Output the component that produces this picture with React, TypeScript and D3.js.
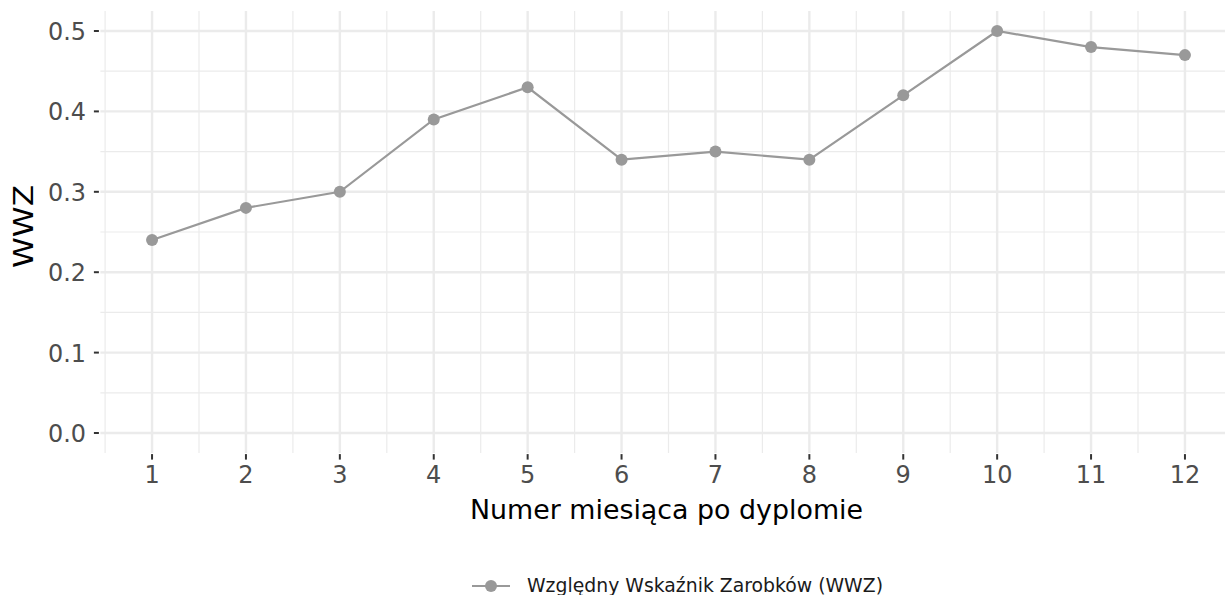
import React from "react";
import * as d3 from "d3";

const months = [1, 2, 3, 4, 5, 6, 7, 8, 9, 10, 11, 12];
const wwz = [0.24, 0.28, 0.3, 0.39, 0.43, 0.34, 0.35, 0.34, 0.42, 0.5, 0.48, 0.47];
const yTicks = [0, 0.1, 0.2, 0.3, 0.4, 0.5];
const yMinor = [0.05, 0.15, 0.25, 0.35, 0.45];
const xMinor = [0.5, 1.5, 2.5, 3.5, 4.5, 5.5, 6.5, 7.5, 8.5, 9.5, 10.5, 11.5, 12.5];
const xTitle = "Numer miesiąca po dyplomie";
const yTitle = "WWZ";
const legendLabel = "Względny Wskaźnik Zarobków (WWZ)";

const W = 1225, H = 595;
const FONT = "'DejaVu Sans', sans-serif";

export default function App() {
  const x = d3.scaleLinear().domain([0.45, 12.55]).range([100.4, 1236.6]);
  const y = d3.scaleLinear().domain([-0.025, 0.525]).range([453.1, 10.9]);
  const left = 100.4, right = W, top = 10.9, bottom = 453.1;
  const line = d3.line<number>().x((_, i) => x(months[i])).y((d) => y(d));
  const lineColor = "#999999";
  return (
    <svg width={W} height={H} style={{ position: "absolute", left: 0, top: 0 }} fontFamily={FONT}>
      <rect width={W} height={H} fill="#fff" />
      {yMinor.map((v) => (
        <line key={"ym" + v} x1={left} x2={right} y1={y(v)} y2={y(v)} stroke="#ebebeb" strokeWidth={1.2} />
      ))}
      {xMinor.map((v) => (
        <line key={"xm" + v} x1={x(v)} x2={x(v)} y1={top} y2={bottom} stroke="#ebebeb" strokeWidth={1.2} />
      ))}
      {yTicks.map((v) => (
        <line key={"yM" + v} x1={left} x2={right} y1={y(v)} y2={y(v)} stroke="#ebebeb" strokeWidth={2.4} />
      ))}
      {months.map((v) => (
        <line key={"xM" + v} x1={x(v)} x2={x(v)} y1={top} y2={bottom} stroke="#ebebeb" strokeWidth={2.4} />
      ))}
      <path d={line(wwz) || ""} fill="none" stroke={lineColor} strokeWidth={2.2} />
      {wwz.map((v, i) => (
        <circle key={"p" + i} cx={x(months[i])} cy={y(v)} r={6} fill={lineColor} />
      ))}
      {yTicks.map((v) => (
        <g key={"yt" + v}>
          <line x1={left - 6.5} x2={left - 1.5} y1={y(v)} y2={y(v)} stroke="#333" strokeWidth={2} />
          <text x={86} y={y(v) + 9} textAnchor="end" fontSize={24} fill="#4d4d4d" textLength={38} lengthAdjust="spacingAndGlyphs">
            {v.toFixed(1)}
          </text>
        </g>
      ))}
      {months.map((v) => (
        <g key={"xt" + v}>
          <line x1={x(v)} x2={x(v)} y1={bottom + 1} y2={bottom + 6.5} stroke="#333" strokeWidth={2} />
          <text x={x(v)} y={483} textAnchor="middle" fontSize={24} fill="#4d4d4d">
            {v}
          </text>
        </g>
      ))}
      <text x={470} y={519} fontSize={26} fill="#000" textLength={393} lengthAdjust="spacingAndGlyphs">
        {xTitle}
      </text>
      <text transform={`translate(33, 268) rotate(-90)`} fontSize={26} fill="#000" textLength={83} lengthAdjust="spacingAndGlyphs">
        {yTitle}
      </text>
      <line x1={472} x2={510} y1={586} y2={586} stroke={lineColor} strokeWidth={2.2} />
      <circle cx={491} cy={586} r={6} fill={lineColor} />
      <text x={527} y={591.5} fontSize={19} fill="#1a1a1a" textLength={356} lengthAdjust="spacingAndGlyphs">
        {legendLabel}
      </text>
    </svg>
  );
}
